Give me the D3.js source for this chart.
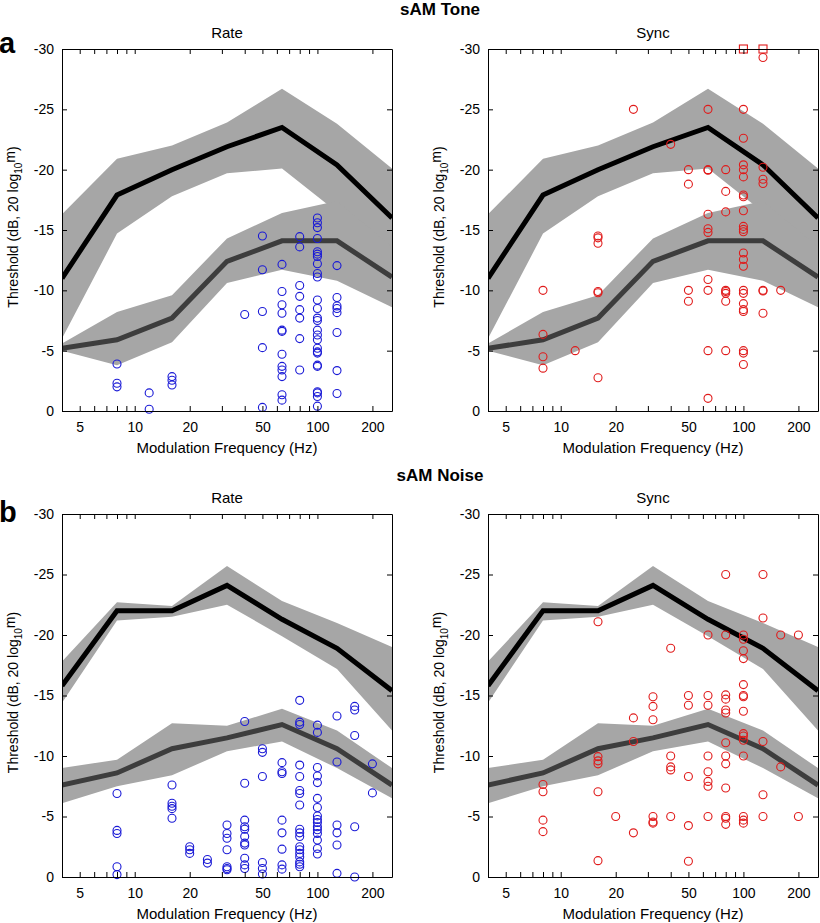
<!DOCTYPE html>
<html><head><meta charset="utf-8">
<script src="https://cdn.jsdelivr.net/npm/d3@7"></script>
<style>body{margin:0;background:#fff} text{font-family:"Liberation Sans",Arial,Helvetica,sans-serif}</style>
</head><body><svg id="c" width="820" height="923"></svg>
<script>
// ---- data ----
const freqs = [4, 8, 16, 32, 64, 128, 256];
const yTicks = [0, -5, -10, -15, -20, -25, -30];
const xTickAll = [5, 6, 7, 8, 9, 10, 20, 30, 40, 50, 60, 70, 80, 90, 100, 200];
const xTickLabels = [5, 10, 20, 50, 100, 200];

// sAM tone model curves
const toneUpperMean = [-11.0, -17.9, -20.0, -21.9, -23.5, -20.4, -16.0];
const toneUpperHi   = [-16.3, -20.9, -22.0, -23.9, -26.7, -23.8, -20.1];
const toneUpperLo   = [-6.0, -14.7, -17.8, -19.7, -20.1, -16.5, -12.0];
const toneLowerMean = [-5.2, -5.9, -7.7, -12.4, -14.1, -14.1, -11.1];
const toneLowerHi   = [-5.6, -8.2, -9.6, -14.3, -16.4, -17.4, -13.6];
const toneLowerLo   = [-5.0, -3.8, -5.7, -10.6, -11.7, -10.8, -8.6];

// sAM noise model curves
const noiseUpperMean = [-15.8, -22.0, -22.0, -24.1, -21.3, -18.9, -15.4];
const noiseUpperHi   = [-17.8, -22.7, -22.4, -25.7, -22.8, -21.0, -19.0];
const noiseUpperLo   = [-14.4, -21.2, -21.5, -22.5, -19.9, -17.2, -12.1];
const noiseLowerMean = [-7.6, -8.6, -10.6, -11.5, -12.6, -10.6, -7.6];
const noiseLowerHi   = [-9.0, -9.7, -12.7, -12.5, -13.9, -12.1, -9.0];
const noiseLowerLo   = [-6.1, -7.5, -8.4, -10.4, -11.2, -9.0, -6.5];

// neuron thresholds: [frequency, [thresholds...]]
const toneRate = [
  [8, [-3.9, -2.3, -2.0]],
  [12, [-1.5, -0.15]],
  [16, [-2.85, -2.55, -2.15]],
  [40, [-8.0]],
  [50, [-14.5, -11.7, -8.25, -5.25, -0.3]],
  [64, [-12.15, -9.9, -8.8, -8.1, -6.7, -6.6, -4.7, -3.7, -3.4, -2.85, -1.35, -0.9]],
  [80, [-14.45, -13.6, -10.4, -9.5, -8.4, -7.7, -6.0, -3.4]],
  [100, [-16.0, -15.6, -15.2, -14.3, -13.2, -13.0, -12.8, -12.2, -11.4, -11.1, -9.2, -8.5, -7.7, -7.5, -6.7, -6.3, -5.9, -5.2, -4.9, -4.8, -3.8, -3.7, -1.6, -1.5, -1.2, -0.4]],
  [128, [-12.05, -9.4, -8.7, -8.5, -8.15, -6.5, -3.35, -1.45]]
];
const toneSync = [
  [8, [-10.0, -6.35, -4.5, -3.55]],
  [12, [-5.0]],
  [16, [-14.5, -14.35, -13.9, -9.9, -9.8, -2.75]],
  [25, [-25.0]],
  [40, [-22.1]],
  [50, [-20.0, -18.8, -10.0, -9.1]],
  [64, [-25.0, -20.0, -19.95, -16.3, -15.1, -14.8, -10.9, -10.0, -5.0, -1.05]],
  [80, [-20.0, -18.2, -16.5, -10.0, -9.9, -9.75, -9.1, -5.0]],
  [100, [-25.0, -22.6, -20.4, -20.0, -19.4, -17.9, -17.75, -16.6, -15.3, -15.05, -14.85, -13.1, -12.55, -12.0, -10.0, -9.75, -8.9, -8.4, -8.25, -5.0, -4.8, -3.85]],
  [128, [-29.3, -20.2, -19.2, -18.85, -10.0, -9.95, -8.1]],
  [160, [-10.0]]
];
const toneSyncCeiling = [[100, -30], [128, -30]];
const noiseRate = [
  [8, [-6.9, -3.85, -3.6, -0.85, -0.2]],
  [16, [-7.6, -6.1, -5.85, -5.65, -4.85]],
  [20, [-2.5, -2.25, -1.95]],
  [25, [-1.45, -1.15]],
  [32, [-4.3, -3.6, -3.2, -2.25, -0.85, -0.7, -0.6]],
  [40, [-12.85, -7.75, -4.7, -4.15, -3.95, -3.35, -2.8, -2.65, -1.55, -1.0, -0.7]],
  [50, [-10.6, -10.3, -8.3, -1.2, -0.7, -0.25]],
  [64, [-9.45, -8.7, -8.55, -4.7, -3.65, -2.3, -1.0, -0.65]],
  [80, [-14.6, -12.8, -12.6, -9.25, -8.3, -7.15, -6.9, -5.95, -3.95, -3.65, -3.35, -2.5, -2.25, -1.95, -1.65, -1.25, -1.05, -0.85]],
  [100, [-12.55, -11.95, -9.05, -8.35, -7.8, -6.5, -5.75, -5.05, -4.75, -4.5, -4.15, -3.9, -3.6, -3.05, -2.35, -1.9]],
  [128, [-13.3, -9.5, -4.3, -3.65, -2.65, -0.3]],
  [160, [-14.1, -13.8, -11.7, -4.15, 0.0]],
  [200, [-9.35, -6.95]]
];
const noiseSync = [
  [8, [-7.65, -7.05, -4.7, -3.75]],
  [16, [-21.1, -9.95, -9.6, -9.35, -7.05, -1.35]],
  [20, [-5.0]],
  [25, [-13.15, -11.2, -3.65]],
  [32, [-14.9, -14.1, -13.0, -5.0, -4.55, -4.45]],
  [40, [-18.9, -10.0, -9.1, -8.85, -5.0]],
  [50, [-15.0, -14.2, -8.3, -4.25, -1.3]],
  [64, [-20.0, -15.0, -14.2, -10.0, -8.7, -7.9, -7.5, -5.0]],
  [80, [-25.0, -20.0, -15.05, -14.7, -13.8, -13.55, -11.1, -10.0, -9.35, -7.35, -5.0, -4.85, -4.35]],
  [100, [-20.0, -19.65, -18.7, -18.05, -15.9, -15.0, -14.9, -13.7, -11.85, -11.65, -11.3, -10.0, -5.0, -4.7, -4.45]],
  [128, [-25.0, -21.4, -11.2, -6.8, -5.0]],
  [160, [-20.0, -9.1]],
  [200, [-20.0, -5.0]]
];

// ---- drawing ----
const svg = d3.select("#c");
svg.append("rect").attr("width", 820).attr("height", 923).attr("fill", "#fff");

const BAND = "#a6a6a6", LOWLINE = "#3d3d3d", BLUE = "#1a1ad6", RED = "#e01b1b";
let clipId = 0;

function panel(o) {
  const x = d3.scaleLog().domain([4, 256]).range([o.x0, o.x1]);
  const y = d3.scaleLinear().domain([0, -30]).range([o.y1, o.y0]);
  const g = svg.append("g");
  const cid = "clip" + (clipId++);
  g.append("clipPath").attr("id", cid).append("rect")
    .attr("x", o.x0).attr("y", o.y0).attr("width", o.x1 - o.x0).attr("height", o.y1 - o.y0);
  const plot = g.append("g").attr("clip-path", `url(#${cid})`);
  const c = o.curves;
  const area = (hi, lo) => d3.area()
    .x((d, i) => x(freqs[i])).y0((d, i) => y(lo[i])).y1((d, i) => y(hi[i]))(freqs);
  const line = (m) => d3.line().x((d, i) => x(freqs[i])).y((d, i) => y(m[i]))(freqs);
  plot.append("path").attr("d", area(c.uHi, c.uLo)).attr("fill", BAND);
  plot.append("path").attr("d", area(c.lHi, c.lLo)).attr("fill", BAND);
  plot.append("path").attr("d", line(c.lMean)).attr("fill", "none").attr("stroke", LOWLINE)
    .attr("stroke-width", 5).attr("stroke-linejoin", "miter");
  plot.append("path").attr("d", line(c.uMean)).attr("fill", "none").attr("stroke", "#000")
    .attr("stroke-width", 5).attr("stroke-linejoin", "miter");

  const pts = [];
  o.points.forEach(([f, vals]) => vals.forEach(v => pts.push([f, v])));
  g.append("g").selectAll("circle").data(pts).join("circle")
    .attr("cx", d => x(d[0])).attr("cy", d => y(d[1])).attr("r", 4)
    .attr("fill", "none").attr("stroke", o.color).attr("stroke-width", 1.1);
  if (o.squares) {
    g.append("g").selectAll("rect").data(o.squares).join("rect")
      .attr("x", d => x(d[0]) - 4).attr("y", d => y(d[1]) - 4).attr("width", 8).attr("height", 8)
      .attr("fill", "none").attr("stroke", o.color).attr("stroke-width", 1.1);
  }

  const fmtX = d => xTickLabels.includes(d) ? String(d) : "";
  const style = sel => {
    sel.attr("font-family", null).attr("font-size", null);
    sel.selectAll("text").attr("font-size", 14).attr("fill", "#000");
    sel.selectAll("line").attr("stroke", "#000");
    sel.select(".domain").attr("stroke", "#000");
  };
  g.append("g").attr("transform", `translate(0,${o.y1})`)
    .call(d3.axisBottom(x).tickValues(xTickAll).tickFormat(fmtX).tickSizeInner(-5).tickSizeOuter(0).tickPadding(11)).call(style);
  g.append("g").attr("transform", `translate(0,${o.y0})`)
    .call(d3.axisTop(x).tickValues(xTickAll).tickFormat("").tickSizeInner(-5).tickSizeOuter(0)).call(style);
  g.append("g").attr("transform", `translate(${o.x0},0)`)
    .call(d3.axisLeft(y).tickValues(yTicks).tickFormat(d => String(d)).tickSizeInner(-5).tickSizeOuter(0).tickPadding(8)).call(style);
  g.append("g").attr("transform", `translate(${o.x1},0)`)
    .call(d3.axisRight(y).tickValues(yTicks).tickFormat("").tickSizeInner(-5).tickSizeOuter(0)).call(style);

  const cx = (o.x0 + o.x1) / 2;
  g.append("text").attr("x", cx).attr("y", o.y0 - 11).attr("text-anchor", "middle")
    .attr("font-size", 15).text(o.title);
  g.append("text").attr("x", cx).attr("y", o.y1 + 42).attr("text-anchor", "middle")
    .attr("font-size", 15).text("Modulation Frequency (Hz)");
  const yl = g.append("text").attr("transform", `translate(${o.x0 - 44},${(o.y0 + o.y1) / 2 - 3}) rotate(-90)`)
    .attr("text-anchor", "middle").attr("font-size", 14);
  yl.append("tspan").text("Threshold (dB, 20 log");
  yl.append("tspan").attr("font-size", 10).attr("dy", 4).text("10");
  yl.append("tspan").attr("dy", -7).text("m");
  yl.append("tspan").attr("dy", 3).text(")");
}

const toneCurves = {uMean: toneUpperMean, uHi: toneUpperHi, uLo: toneUpperLo, lMean: toneLowerMean, lHi: toneLowerHi, lLo: toneLowerLo};
const noiseCurves = {uMean: noiseUpperMean, uHi: noiseUpperHi, uLo: noiseUpperLo, lMean: noiseLowerMean, lHi: noiseLowerHi, lLo: noiseLowerLo};

panel({x0: 62, x1: 392, y0: 49, y1: 411, title: "Rate", curves: toneCurves, points: toneRate, color: BLUE});
panel({x0: 488, x1: 818, y0: 49, y1: 411, title: "Sync", curves: toneCurves, points: toneSync, color: RED, squares: toneSyncCeiling});
panel({x0: 62, x1: 392, y0: 514, y1: 877, title: "Rate", curves: noiseCurves, points: noiseRate, color: BLUE});
panel({x0: 488, x1: 818, y0: 514, y1: 877, title: "Sync", curves: noiseCurves, points: noiseSync, color: RED});

svg.append("text").attr("x", 440).attr("y", 15).attr("text-anchor", "middle")
  .attr("font-size", 17).attr("font-weight", "bold").text("sAM Tone");
svg.append("text").attr("x", 440).attr("y", 481).attr("text-anchor", "middle")
  .attr("font-size", 17).attr("font-weight", "bold").text("sAM Noise");
svg.append("text").attr("x", -1).attr("y", 53).attr("font-size", 29).attr("font-weight", "bold").text("a");
svg.append("text").attr("x", -1).attr("y", 522).attr("font-size", 29).attr("font-weight", "bold").text("b");
</script></body></html>
